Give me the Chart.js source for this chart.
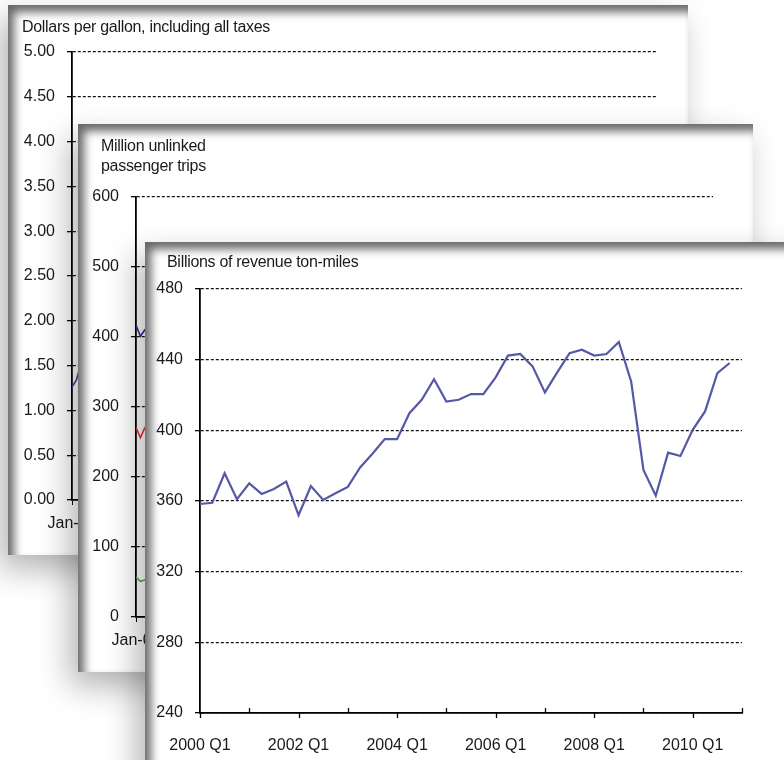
<!DOCTYPE html>
<html>
<head>
<meta charset="utf-8">
<script src="https://cdn.jsdelivr.net/npm/chart.js@4.4.1/dist/chart.umd.min.js"></script>
<style>
  html, body { margin: 0; padding: 0; background: #fff; }
  body { width: 784px; height: 760px; position: relative; overflow: hidden; font-family: 'Liberation Sans', Arial, sans-serif; }
  .panel {
    position: absolute; background: #fff;
    box-shadow: inset 6px 7px 10px rgba(0,0,0,0.6), -8px 14px 30px rgba(0,0,0,0.3);
  }
  .panel canvas { position: absolute; left: 0; top: 0; }
  .ptitle { position: absolute; font-size: 16px; line-height: 20px; color: #1a1a1a; letter-spacing: -0.3px; white-space: nowrap; z-index: 2; }
</style>
</head>
<body>
<div class="panel" id="p1" style="left:8px; top:5px; width:680px; height:550px; z-index:1;">
  <div class="ptitle" style="left:14px; top:12px;">Dollars per gallon, including all taxes</div>
  <canvas id="gasChart" width="680" height="550"></canvas>
</div>
<div class="panel" id="p2" style="left:78px; top:124px; width:675px; height:548px; z-index:2;">
  <div class="ptitle" style="left:23px; top:12px;">Million unlinked<br>passenger trips</div>
  <canvas id="transitChart" width="675" height="548"></canvas>
</div>
<div class="panel" id="p3" style="left:145px; top:242px; width:700px; height:560px; z-index:3;">
  <div class="ptitle" style="left:22px; top:10px;">Billions of revenue ton-miles</div>
  <canvas id="freightChart" width="639" height="518"></canvas>
</div>

<script>
// --- DATA ---
// back panel: gasoline price (only the start of the line shows)
const gasMonthLabels = ['Jan-00', 'Jan-02', 'Jan-04', 'Jan-06', 'Jan-08', 'Jan-10'];
const gasTickLabels = ['0.00', '0.50', '1.00', '1.50', '2.00', '2.50', '3.00', '3.50', '4.00', '4.50', '5.00'];
const gasPrice = [1.26, 1.34, 1.52, 1.49, 1.51];

// middle panel: transit trips
const transitMonthLabels = ['Jan-00', 'Jan-02', 'Jan-04', 'Jan-06', 'Jan-08', 'Jan-10'];
const transitTickLabels = ['0', '100', '200', '300', '400', '500', '600'];
const transitBlue = [417, 401, 410, 405, 412];
const transitRed = [271, 256, 270, 262, 266];
const transitGreen = [57, 51, 53, 55, 54];

// front panel: freight ton-miles, quarterly
const years = ['2000', '2001', '2002', '2003', '2004', '2005', '2006', '2007', '2008', '2009', '2010'];
const quarterNames = ['Q1', 'Q2', 'Q3', 'Q4'];
const quarters = years.flatMap(y => quarterNames.map(q => y + ' ' + q));
const freightTickLabels = ['240', '280', '320', '360', '400', '440', '480'];
const freightTonMiles = [
    358.3, 359, 375.7, 361, 370, 364, 366.8, 371,
    352, 368.5, 360.6, 364.4, 368, 379, 386.7, 395,
    395, 409.7, 417.3, 429, 416.3, 417.3, 420.5, 420.5,
    430, 442.3, 443.2, 436.2, 421.5, 432.8, 443.7, 445.6,
    442.3, 443.2, 450, 427.7, 377.6, 363, 387.4, 385.5,
    400.3, 410.7, 432.4, 438.1
];

// --- SHARED STYLE ---
const textColor = '#1a1a1a';
const tickFont = { family: "'Liberation Sans', Arial, sans-serif", size: 16 };

function asPoints(values) {
    return values.map((v, i) => ({ x: i, y: v }));
}

function yAxis(min, max, step, labels, width) {
    return {
        min: min, max: max,
        ticks: {
            stepSize: step, color: textColor, font: tickFont, padding: 12,
            callback: (v) => labels[Math.round((v - min) / step)]
        },
        grid: {
            color: '#111', lineWidth: 1.3,
            tickLength: 5, tickColor: '#000', tickBorderDash: [], tickWidth: 1.3
        },
        // in v4 the dash of the grid lines lives on border
        border: { display: true, color: '#000', width: 1.8, dash: [3, 2] },
        afterFit: (scale) => { scale.width = width; }
    };
}

function lineSet(values, color, width) {
    return {
        data: asPoints(values), borderColor: color, borderWidth: width,
        pointRadius: 0, tension: 0, fill: false
    };
}

const baseOptions = {
    responsive: false, animation: false,
    plugins: { legend: { display: false }, tooltip: { enabled: false } }
};

// draws the quarter ticks: labelled ones point down, others point up
const quarterTicks = {
    id: 'quarterTicks',
    afterDraw(chart) {
        const xs = chart.scales.x;
        const y0 = chart.chartArea.bottom;
        const ctx = chart.ctx;
        ctx.save();
        ctx.strokeStyle = '#000';
        ctx.lineWidth = 1.3;
        ctx.beginPath();
        xs.ticks.forEach(t => {
            const px = Math.round(xs.getPixelForValue(t.value)) + 0.5;
            ctx.moveTo(px, y0);
            ctx.lineTo(px, t.value % 8 === 0 ? y0 + 5 : y0 - 5);
        });
        ctx.stroke();
        ctx.restore();
    }
};

// --- INITIALIZATION ---
document.addEventListener('DOMContentLoaded', () => {
    new Chart(document.getElementById('gasChart'), {
        type: 'line',
        data: { datasets: [lineSet(gasPrice, '#3f3f9e', 1.6)] },
        options: Object.assign({}, baseOptions, {
            layout: { padding: { top: 47, right: 31, bottom: 0, left: 0 } },
            scales: {
                x: {
                    type: 'linear', min: 0, max: 132,
                    ticks: { stepSize: 24, color: textColor, font: tickFont, padding: 9,
                        callback: (v) => gasMonthLabels[v / 24] },
                    grid: { display: true, drawOnChartArea: false, tickLength: 5, color: '#000' },
                    border: { display: true, color: '#000', width: 1.8 },
                    afterFit: (scale) => { scale.height = 55; }
                },
                y: yAxis(0, 5, 0.5, gasTickLabels, 64)
            }
        })
    });

    new Chart(document.getElementById('transitChart'), {
        type: 'line',
        data: { datasets: [
            lineSet(transitBlue, '#2b2f8f', 1.6),
            lineSet(transitRed, '#e8312a', 1.6),
            lineSet(transitGreen, '#49b649', 1.6)
        ] },
        options: Object.assign({}, baseOptions, {
            layout: { padding: { top: 73, right: 40, bottom: 0, left: 0 } },
            scales: {
                x: {
                    type: 'linear', min: 0, max: 132,
                    ticks: { stepSize: 24, color: textColor, font: tickFont, padding: 9,
                        callback: (v) => transitMonthLabels[v / 24] },
                    grid: { display: true, drawOnChartArea: false, tickLength: 5, color: '#000' },
                    border: { display: true, color: '#000', width: 1.8 },
                    afterFit: (scale) => { scale.height = 55; }
                },
                y: yAxis(0, 600, 100, transitTickLabels, 58)
            }
        })
    });

    new Chart(document.getElementById('freightChart'), {
        type: 'line',
        data: { datasets: [lineSet(freightTonMiles, '#5558a6', 2.2)] },
        options: Object.assign({}, baseOptions, {
            layout: { padding: { top: 47, right: 42, bottom: 0, left: 0 } },
            scales: {
                x: {
                    type: 'linear', min: 0, max: 44,
                    ticks: { stepSize: 4, maxTicksLimit: 20, autoSkip: false, color: textColor, font: tickFont, padding: 23,
                        maxRotation: 0,
                        callback: (v) => (v % 8 === 0 ? quarters[v] : '') },
                    grid: { display: false, drawTicks: false },
                    border: { display: true, color: '#000', width: 1.8 },
                    afterFit: (scale) => { scale.height = 47; }
                },
                y: yAxis(240, 480, 40, freightTickLabels, 55)
            }
        }),
        plugins: [quarterTicks]
    });
});
</script>
</body>
</html>
